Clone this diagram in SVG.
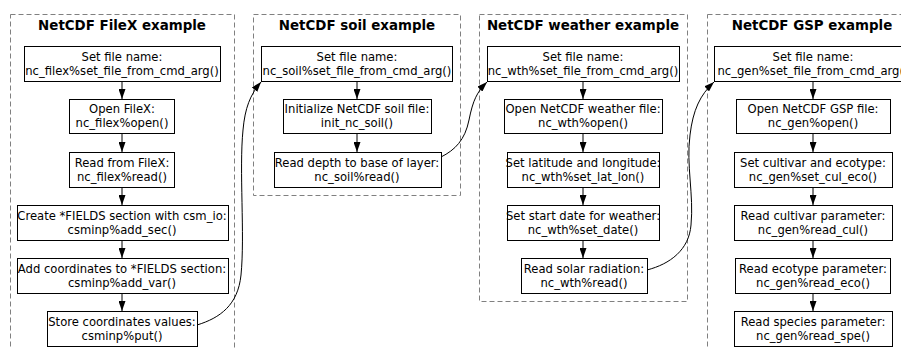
<svg xmlns="http://www.w3.org/2000/svg" width="901" height="348" viewBox="0 0 901 348">
<defs>
<style>
.cl{fill:none;stroke:#808080;stroke-width:1;stroke-dasharray:5,3}
.bx{fill:#fff;stroke:#000;stroke-width:1}
.t{font-family:"DejaVu Sans",sans-serif;font-size:11.6px;fill:#000;text-anchor:middle}
.h{font-family:"DejaVu Sans",sans-serif;font-size:13.4px;font-weight:bold;fill:#000;text-anchor:middle}
.e{fill:none;stroke:#000;stroke-width:1}
</style>
<marker id="ah" viewBox="0 0 10 7" refX="10" refY="3.5" markerWidth="10" markerHeight="7" markerUnits="userSpaceOnUse" orient="auto">
<path d="M0,0 L10,3.5 L0,7 Z" fill="#000"/>
</marker>
</defs>
<rect width="901" height="348" fill="#fff"/>

<g id="cluster_filex">
<rect class="cl" x="10.5" y="14.5" width="224" height="350"/>
<text class="h" x="122" y="30">NetCDF FileX example</text>
</g>
<g id="cluster_soil">
<rect class="cl" x="253.5" y="14.5" width="207" height="181"/>
<text class="h" x="357" y="30">NetCDF soil example</text>
</g>
<g id="cluster_weather">
<rect class="cl" x="479.5" y="14.5" width="208" height="287"/>
<text class="h" x="583" y="30">NetCDF weather example</text>
</g>
<g id="cluster_gsp">
<rect class="cl" x="707.5" y="14.5" width="220" height="350"/>
<text class="h" x="812" y="30">NetCDF GSP example</text>
</g>

<g id="connectors">
<path class="e" d="M122,81 V99" marker-end="url(#ah)"/>
<path class="e" d="M122,133 V152" marker-end="url(#ah)"/>
<path class="e" d="M122,187 V205" marker-end="url(#ah)"/>
<path class="e" d="M122,240 V258" marker-end="url(#ah)"/>
<path class="e" d="M122,293 V311" marker-end="url(#ah)"/>
<path class="e" d="M357,81 V99" marker-end="url(#ah)"/>
<path class="e" d="M357,133 V152" marker-end="url(#ah)"/>
<path class="e" d="M583,81 V99" marker-end="url(#ah)"/>
<path class="e" d="M583,133 V152" marker-end="url(#ah)"/>
<path class="e" d="M583,187 V205" marker-end="url(#ah)"/>
<path class="e" d="M583,240 V258" marker-end="url(#ah)"/>
<path class="e" d="M813,81 V99" marker-end="url(#ah)"/>
<path class="e" d="M813,133 V152" marker-end="url(#ah)"/>
<path class="e" d="M813,187 V205" marker-end="url(#ah)"/>
<path class="e" d="M813,240 V258" marker-end="url(#ah)"/>
<path class="e" d="M813,293 V311" marker-end="url(#ah)"/>
<path class="e" d="M197,325 C220,318 238,305 241,275 C245,235 239,170 243,130 C245,108 250,95 261,82" marker-end="url(#ah)"/>
<path class="e" d="M441,157 C455,150 465,140 469,120 C473,100 477,92 487,82" marker-end="url(#ah)"/>
<path class="e" d="M647,270 C670,264 689,250 691,225 C694,195 686,165 690,135 C693,110 700,95 714,82" marker-end="url(#ah)"/>
</g>

<g id="n_filex_name"><rect class="bx" x="24.5" y="46.5" width="196" height="35"/><text class="t" x="122" y="60.5">Set file name:</text><text class="t" x="122" y="74.5">nc_filex%set_file_from_cmd_arg()</text></g>
<g id="n_filex_open"><rect class="bx" x="69.5" y="99.5" width="105" height="34"/><text class="t" x="122" y="113">Open FileX:</text><text class="t" x="122" y="127">nc_filex%open()</text></g>
<g id="n_filex_read"><rect class="bx" x="69.5" y="152.5" width="105" height="35"/><text class="t" x="122" y="166.5">Read from FileX:</text><text class="t" x="122" y="180.5">nc_filex%read()</text></g>
<g id="n_filex_addsec"><rect class="bx" x="17.5" y="205.5" width="211" height="35"/><text class="t" x="122" y="219.5">Create *FIELDS section with csm_io:</text><text class="t" x="122" y="233.5">csminp%add_sec()</text></g>
<g id="n_filex_addvar"><rect class="bx" x="17.5" y="258.5" width="211" height="35"/><text class="t" x="122" y="272.5">Add coordinates to *FIELDS section:</text><text class="t" x="122" y="286.5">csminp%add_var()</text></g>
<g id="n_filex_put"><rect class="bx" x="47.5" y="311.5" width="150" height="35"/><text class="t" x="122" y="325.5">Store coordinates values:</text><text class="t" x="122" y="339.5">csminp%put()</text></g>

<g id="n_soil_name"><rect class="bx" x="261.5" y="46.5" width="191" height="35"/><text class="t" x="357" y="60.5">Set file name:</text><text class="t" x="357" y="74.5">nc_soil%set_file_from_cmd_arg()</text></g>
<g id="n_soil_init"><rect class="bx" x="283.5" y="99.5" width="148" height="34"/><text class="t" x="357" y="113">Initialize NetCDF soil file:</text><text class="t" x="357" y="127">init_nc_soil()</text></g>
<g id="n_soil_read"><rect class="bx" x="274.5" y="152.5" width="167" height="35"/><text class="t" x="357" y="166.5">Read depth to base of layer:</text><text class="t" x="357" y="180.5">nc_soil%read()</text></g>

<g id="n_wth_name"><rect class="bx" x="487.5" y="46.5" width="192" height="35"/><text class="t" x="583" y="60.5">Set file name:</text><text class="t" x="583" y="74.5">nc_wth%set_file_from_cmd_arg()</text></g>
<g id="n_wth_open"><rect class="bx" x="504.5" y="99.5" width="158" height="34"/><text class="t" x="583" y="113">Open NetCDF weather file:</text><text class="t" x="583" y="127">nc_wth%open()</text></g>
<g id="n_wth_latlon"><rect class="bx" x="507.5" y="152.5" width="152" height="35"/><text class="t" x="583" y="166.5">Set latitude and longitude:</text><text class="t" x="583" y="180.5">nc_wth%set_lat_lon()</text></g>
<g id="n_wth_date"><rect class="bx" x="507.5" y="205.5" width="152" height="35"/><text class="t" x="583" y="219.5">Set start date for weather:</text><text class="t" x="583" y="233.5">nc_wth%set_date()</text></g>
<g id="n_wth_read"><rect class="bx" x="521.5" y="258.5" width="126" height="35"/><text class="t" x="584" y="272.5">Read solar radiation:</text><text class="t" x="584" y="286.5">nc_wth%read()</text></g>

<g id="n_gen_name"><rect class="bx" x="714.5" y="46.5" width="198" height="35"/><text class="t" x="813" y="60.5">Set file name:</text><text class="t" x="813" y="74.5">nc_gen%set_file_from_cmd_arg()</text></g>
<g id="n_gen_open"><rect class="bx" x="736.5" y="99.5" width="154" height="34"/><text class="t" x="813" y="113">Open NetCDF GSP file:</text><text class="t" x="813" y="127">nc_gen%open()</text></g>
<g id="n_gen_culeco"><rect class="bx" x="734.5" y="152.5" width="158" height="35"/><text class="t" x="813" y="166.5">Set cultivar and ecotype:</text><text class="t" x="813" y="180.5">nc_gen%set_cul_eco()</text></g>
<g id="n_gen_cul"><rect class="bx" x="734.5" y="205.5" width="158" height="35"/><text class="t" x="813" y="219.5">Read cultivar parameter:</text><text class="t" x="813" y="233.5">nc_gen%read_cul()</text></g>
<g id="n_gen_eco"><rect class="bx" x="735.5" y="258.5" width="155" height="35"/><text class="t" x="813" y="272.5">Read ecotype parameter:</text><text class="t" x="813" y="286.5">nc_gen%read_eco()</text></g>
<g id="n_gen_spe"><rect class="bx" x="734.5" y="311.5" width="158" height="35"/><text class="t" x="813" y="325.5">Read species parameter:</text><text class="t" x="813" y="339.5">nc_gen%read_spe()</text></g>
</svg>
